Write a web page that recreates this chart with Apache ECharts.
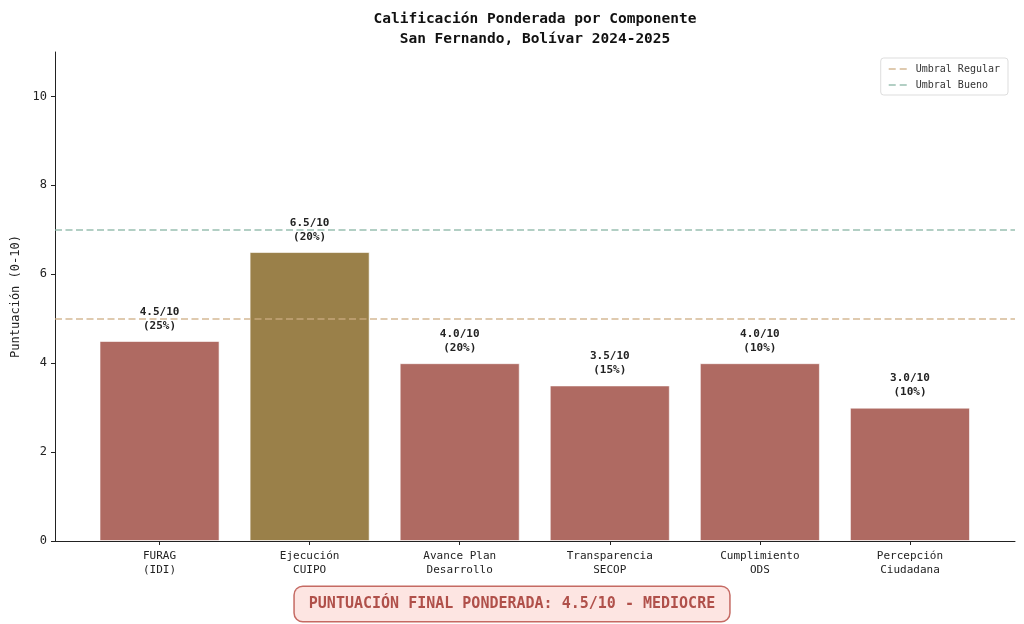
<!DOCTYPE html>
<html>
<head>
<meta charset="utf-8">
<script src="https://cdn.jsdelivr.net/npm/echarts@6/dist/echarts.min.js"></script>
<style>
    html, body { margin: 0; padding: 0; background: #fff; }
    #chart { width: 1024px; height: 624px; }
</style>
</head>
<body>
<div id="chart"></div>
<script>
    var categories = ['FURAG\n(IDI)', 'Ejecución\nCUIPO', 'Avance Plan\nDesarrollo', 'Transparencia\nSECOP', 'Cumplimiento\nODS', 'Percepción\nCiudadana'];
    var scores = [4.5, 6.5, 4.0, 3.5, 4.0, 3.0];
    var weights = [25, 20, 20, 15, 10, 10];
    var thresholdNames = ['Umbral Regular', 'Umbral Bueno'];
    var thresholdValues = [5, 7];
    var finalScore = 4.5;
    var finalLabel = 'MEDIOCRE';

    var FONT = '"DejaVu Sans Mono", "Liberation Mono", monospace';
    var thresholdColors = ['rgba(205,172,130,0.85)', 'rgba(135,180,162,0.85)'];
    var DASH_ICON = 'path://M0,0 L7,0 L7,1.6 L0,1.6 Z M11,0 L18,0 L18,1.6 L11,1.6 Z';

    // color of a bar from its score
    function barColor(v) {
        if (v >= thresholdValues[1]) return '#6f9e86';
        if (v >= thresholdValues[0]) return '#9a8049';
        return '#af6a62';
    }

    var chart = echarts.init(document.getElementById('chart'));

    var thresholdSeries = thresholdNames.map(function (name, i) {
        return {
            name: name,
            type: 'line',
            xAxisIndex: 0,
            yAxisIndex: 0,
            data: [],
            symbol: 'none',
            lineStyle: { color: thresholdColors[i], type: [7, 3.5], width: 1.6 },
            itemStyle: { color: thresholdColors[i] },
            markLine: {
                silent: true,
                symbol: 'none',
                label: { show: false },
                lineStyle: { color: thresholdColors[i], type: [7, 3.5], width: 1.6 },
                data: [{ yAxis: thresholdValues[i] }]
            }
        };
    });

    var option = {
        backgroundColor: '#fff',
        animation: false,
        textStyle: { fontFamily: FONT },
        grid: [
            { left: 55, right: 9, top: 52, bottom: 83 },
            { left: 84.5, right: 39, top: 52, bottom: 83 }
        ],
        xAxis: [
            {
                type: 'value', gridIndex: 0, min: 0, max: 1,
                axisLine: { show: true, onZero: false, lineStyle: { color: '#222', width: 1 } },
                axisTick: { show: false }, axisLabel: { show: false }, splitLine: { show: false }
            },
            {
                type: 'category', gridIndex: 1, data: categories,
                axisLine: { show: false },
                axisTick: { show: true, alignWithLabel: true, length: 4, lineStyle: { color: '#222' } },
                axisLabel: { color: '#222', fontSize: 11, lineHeight: 14, margin: 8, fontFamily: FONT }
            }
        ],
        yAxis: [
            {
                type: 'value', gridIndex: 0, min: 0, max: 11, interval: 2,
                name: 'Puntuación (0-10)', nameLocation: 'middle', nameGap: 32,
                nameTextStyle: { color: '#222', fontSize: 12, fontFamily: FONT },
                axisLine: { show: true, lineStyle: { color: '#222', width: 1 } },
                axisTick: { show: true, length: 4, lineStyle: { color: '#222' } },
                axisLabel: { color: '#222', fontSize: 12, margin: 8, showMaxLabel: false, fontFamily: FONT },
                splitLine: { show: false }
            },
            {
                type: 'value', gridIndex: 1, min: 0, max: 11, interval: 2, show: false
            }
        ],
        legend: {
            data: thresholdNames.map(function (n) { return { name: n, icon: DASH_ICON }; }),
            orient: 'vertical',
            right: 16, top: 58,
            itemWidth: 18, itemHeight: 2, itemGap: 6,
            padding: [6, 8, 5, 8],
            backgroundColor: 'rgba(255,255,255,0.8)',
            borderColor: '#ddd', borderWidth: 1, borderRadius: 3,
            textStyle: { color: '#333', fontSize: 10, fontFamily: FONT, padding: [0, 0, 0, 4] }
        },
        series: thresholdSeries.concat([{
            name: 'Puntuación',
            type: 'bar',
            xAxisIndex: 1,
            yAxisIndex: 1,
            barWidth: '80%',
            data: scores.map(function (v, i) {
                return {
                    value: v,
                    itemStyle: { color: barColor(v) },
                    label: { formatter: v.toFixed(1) + '/10\n(' + weights[i] + '%)' }
                };
            }),
            itemStyle: { borderColor: 'rgba(255,255,255,0.6)', borderWidth: 1 },
            label: {
                show: true, position: 'top', distance: 8,
                color: '#222', fontSize: 11, fontWeight: 'bold', lineHeight: 14, fontFamily: FONT
            }
        }]),
        graphic: [
            {
                type: 'text', x: 535, y: 9,
                style: {
                    text: 'Calificación Ponderada por Componente\nSan Fernando, Bolívar 2024-2025',
                    fill: '#111', font: 'bold 14.5px ' + FONT, align: 'center', lineHeight: 20
                }
            },
            {
                type: 'text', x: 512, y: 604,
                style: {
                    text: 'PUNTUACIÓN FINAL PONDERADA: ' + finalScore.toFixed(1) + '/10 - ' + finalLabel,
                    fill: '#b0504a', font: 'bold 15px ' + FONT,
                    align: 'center', verticalAlign: 'middle',
                    backgroundColor: '#fde5e2', borderColor: '#c56a63', borderWidth: 1.5,
                    borderRadius: 8, padding: [10, 14, 9, 14]
                }
            }
        ]
    };

    chart.setOption(option);
    window.addEventListener('resize', chart.resize);
</script>
</body>
</html>
